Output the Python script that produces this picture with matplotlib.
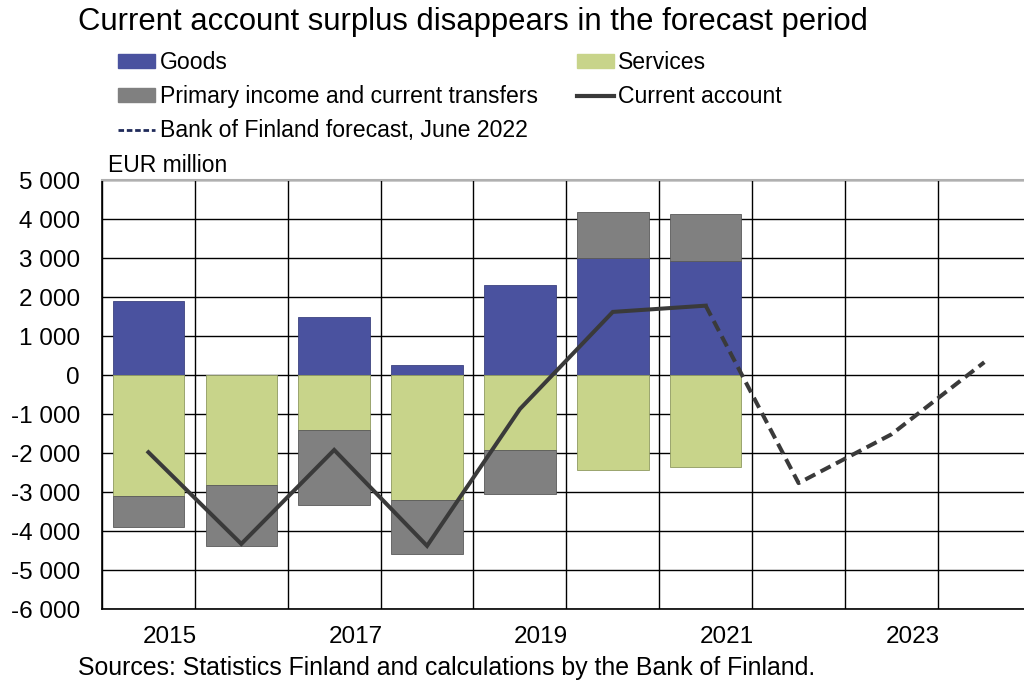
import numpy as np
import matplotlib
matplotlib.use('Agg')
import matplotlib.pyplot as plt
from matplotlib.patches import Patch
from matplotlib.lines import Line2D

plt.rcParams['font.family'] = ['Liberation Sans', 'DejaVu Sans']

# data (EUR million)
years = [2015, 2016, 2017, 2018, 2019, 2020, 2021, 2022, 2023, 2024]
goods = [1900, 0, 1500, 260, 2310, 3000, 2920]
services = [-3100, -2820, -1410, -3200, -1930, -2440, -2350]
primary = [-800, -1560, -1920, -1380, -1120, 1170, 1220]
current = [-1980, -4330, -1920, -4380, -870, 1620, 1780]
forecast = [1780, -2770, -1520, 330]   # 2021..2024
xlabels = ['2015', '', '2017', '', '2019', '', '2021', '', '2023', '']
yticks = [5000, 4000, 3000, 2000, 1000, 0, -1000, -2000, -3000, -4000, -5000, -6000]
ylabels = ['5 000', '4 000', '3 000', '2 000', '1 000', '0', '-1 000', '-2 000',
           '-3 000', '-4 000', '-5 000', '-6 000']

c_goods = '#4a529f'
c_serv = '#c8d48a'
c_prim = '#808080'
c_line = '#3a3a3a'

fig = plt.figure(figsize=(10.24, 6.83), dpi=100)
ax = fig.add_axes([0.0996, 0.1083, 0.907, 0.628])

x = np.arange(len(goods))
w = 0.77
g = np.array(goods)
s = np.array(services)
p = np.array(primary)
pos_base = np.maximum(g, 0) + np.maximum(s, 0)
neg_base = np.minimum(g, 0) + np.minimum(s, 0)
p_bottom = np.where(p >= 0, pos_base, neg_base)

ax.bar(x, g, w, color=c_goods, edgecolor='#3c4380', linewidth=0.6, zorder=3)
ax.bar(x, s, w, color=c_serv, edgecolor='#8f9a60', linewidth=0.6, zorder=3)
ax.bar(x, p, w, bottom=p_bottom, color=c_prim, edgecolor='#5a5a5a', linewidth=0.6, zorder=3)

ax.plot(x, current, color=c_line, lw=2.9, zorder=4, solid_joinstyle='miter')
fx = np.arange(6, 6 + len(forecast))
ax.plot(fx, forecast, color=c_line, lw=2.9, dashes=(2.8, 1.5), zorder=4)

ax.set_xlim(-0.5, 9.5)
ax.set_ylim(-6000, 5000)
ax.set_yticks(yticks)
ax.set_yticklabels(ylabels)
ax.set_xticks(np.arange(len(years)) + 0.23)
ax.set_xticklabels(xlabels)
ax.set_xticks(np.arange(len(years)) - 0.5, minor=True)
ax.tick_params(axis='both', which='both', length=0, labelsize=17.5)
ax.tick_params(axis='y', pad=16)
ax.tick_params(axis='x', pad=12)
ax.grid(axis='y', which='major', color='black', lw=1.0, zorder=1)
ax.grid(axis='x', which='minor', color='black', lw=1.0, zorder=1)
ax.set_axisbelow(True)
for sp in ['left', 'bottom']:
    ax.spines[sp].set_color('black')
    ax.spines[sp].set_linewidth(1.2)
ax.spines['top'].set_color('#b0b0b0')
ax.spines['top'].set_linewidth(1.5)
ax.spines['right'].set_visible(False)

handles = [
    Patch(facecolor=c_goods, edgecolor=c_goods),
    Patch(facecolor=c_prim, edgecolor=c_prim),
    Line2D([0], [0], color='#1f2a5a', lw=2, dashes=(2.0, 1.0)),
    Patch(facecolor=c_serv, edgecolor=c_serv),
    Line2D([0], [0], color=c_line, lw=3),
]
labels = ['Goods', 'Primary income and current transfers', 'Bank of Finland forecast, June 2022',
          'Services', 'Current account']
fig.legend(handles, labels, ncol=2, loc='upper left', bbox_to_anchor=(118 / 1024, 1 - 51 / 683),
           frameon=False, fontsize=16.6, handlelength=1.6, handleheight=0.55,
           handletextpad=0.2, columnspacing=1.7, labelspacing=0.48, borderaxespad=0,
           borderpad=0)

fig.text(78 / 1024, 1 - 22 / 683, 'Current account surplus disappears in the forecast period',
         fontsize=22.3, va='center', ha='left')
fig.text(108 / 1024, 1 - 166 / 683, 'EUR million', fontsize=16.5, va='center', ha='left')
fig.text(78 / 1024, 1 - 668 / 683,
         'Sources: Statistics Finland and calculations by the Bank of Finland.',
         fontsize=17.9, va='center', ha='left')

fig.savefig('out.png', dpi=100)
